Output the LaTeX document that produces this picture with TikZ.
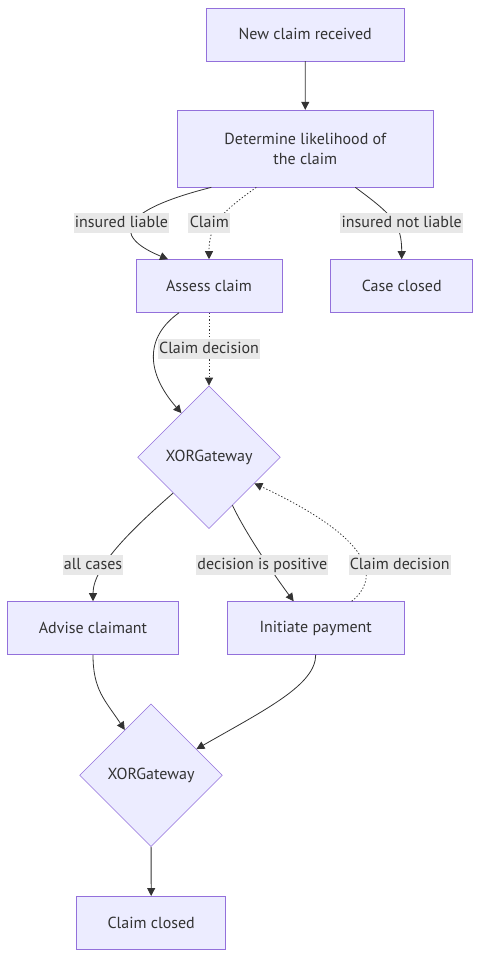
\documentclass[tikz,border=0pt]{standalone}
\usepackage{fontspec}
\setmainfont{PT Sans}
\usepackage{xcolor}
\usetikzlibrary{arrows.meta,shapes.geometric,calc}

\definecolor{boxfill}{HTML}{ECECFF}
\definecolor{boxline}{HTML}{9370DB}
\definecolor{edgeline}{HTML}{333333}
\definecolor{lblfill}{HTML}{E8E8E8}

\tikzset{
    box/.style={draw=boxline, fill=boxfill, rectangle, minimum height=39.75pt, text=edgeline, font=\fontsize{12}{15}\selectfont},
    gate/.style={draw=boxline, fill=boxfill, diamond, aspect=1, inner sep=0pt, minimum width=107pt, minimum height=107pt, text=edgeline, font=\fontsize{12}{15}\selectfont},
    flow/.style={draw=edgeline, line width=0.6pt, -{Triangle[length=6pt, width=6pt]}},
    dotflow/.style={flow, dash pattern=on 1pt off 1.5pt},
    lbl/.style={fill=lblfill, text=edgeline, inner xsep=1pt, inner ysep=0pt, text height=11pt, text depth=4pt, font=\fontsize{12}{15}\selectfont}
}

\begin{document}
\begin{tikzpicture}[x=0.75pt, y=-0.75pt]

        \useasboundingbox (0,0) rectangle (488,973);

        % Process nodes
        \node (newclaim) [box, minimum width=148.5pt] at (305.2,34.3) {New claim received};
        \node (determine) [box, minimum width=192pt, minimum height=57.75pt, align=center] at (305.3,148.6) {Determine likelihood of\\the claim};
        \node (assess) [box, minimum width=109.5pt] at (209,286) {Assess claim};
        \node (caseclosed) [box, minimum width=106.5pt] at (401.7,286) {Case closed};
        \node (advise) [box, minimum width=128.25pt] at (93,628) {Advise claimant};
        \node (payment) [box, minimum width=132.75pt] at (315.7,628) {Initiate payment};
        \node (claimclosed) [box, minimum width=111.75pt] at (151.2,922.8) {Claim closed};

        % Gateways
        \node (gateone) [gate] at (209,457.2) {XORGateway};
        \node (gatetwo) [gate] at (151,775.3) {XORGateway};

        % Arrows
        \draw[flow] (newclaim) -- (determine);
        \draw[flow] ($(determine.south)+(-94,0)$) .. controls +(-91,23) and +(-58,-24) .. ($(assess.north)+(-41,0)$);
        \draw[dotflow] ($(determine.south)+(-49,0)$) .. controls +(-35,25) and +(0,-35) .. (assess.north);
        \draw[flow] ($(determine.south)+(50,0)$) .. controls +(38,28) and +(0,-35) .. (caseclosed.north);
        \draw[flow] ($(assess.south)+(-30,0)$) .. controls +(-35,25) and +(-35,-40) .. (gateone.122);
        \draw[dotflow] (assess.south) -- (gateone.north);
        \draw[flow] (gateone.south west) .. controls +(-40,35) and +(0,-35) .. (advise.north);
        \draw[flow] (gateone.-64) .. controls +(14,30) and +(-15,-20) .. ($(payment.north)+(-22,0)$);
        \draw[dotflow] ($(payment.north)+(36,0)$) .. controls +(25,-20) and +(128,60) .. (gateone.-30);
        \draw[flow] (advise.south) .. controls +(0,35) and +(-20,-30) .. (gatetwo.120);
        \draw[flow] (payment.south) .. controls +(0,30) and +(70,-40) .. (gatetwo.30);
        \draw[flow] (gatetwo) -- (claimclosed);

        % Edge labels
        \node (liable) [lbl] at (121.5,223) {insured liable};
        \node (claimlbl) [lbl] at (209.3,223) {Claim};
        \node (notliable) [lbl] at (401.7,223) {insured not liable};
        \node (decisionone) [lbl] at (209,348.5) {Claim decision};
        \node (allcases) [lbl] at (93,565) {all cases};
        \node (positive) [lbl] at (262.3,565) {decision is positive};
        \node (decisiontwo) [lbl] at (399.7,565) {Claim decision};

\end{tikzpicture}
\end{document}
